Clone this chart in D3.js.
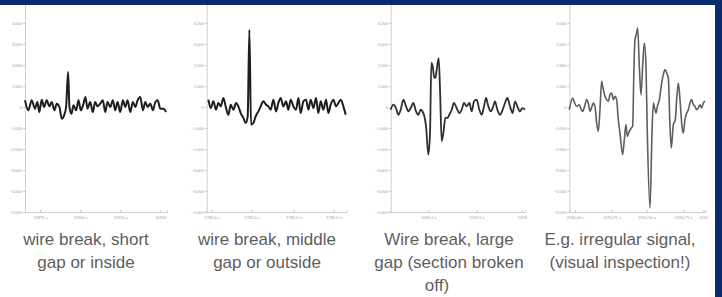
<!DOCTYPE html>
<html>
<head>
<meta charset="utf-8">
<script src="https://cdn.jsdelivr.net/npm/d3@7"></script>
<style>
  html, body { margin: 0; padding: 0; background: #ffffff; }
  svg { display: block; }
</style>
</head>
<body>
<div id="chart"></div>
<script>
// signal traces, [time offset, value]
var waveShort = [[0,320],[10,-160],[20,320],[30,-80],[37,240],[43,-240],[50,350],[57,0],[65,320],[73,30],[80,240],[88,-160],[95,160],[103,0],[110,-560],[117,-400],[123,0],[129,1670],[133,0],[139,-320],[145,80],[153,-160],[160,320],[167,-160],[175,160],[181,480],[187,-80],[195,240],[203,-240],[210,240],[217,30],[225,160],[233,320],[240,-240],[247,240],[255,0],[263,320],[270,-160],[277,240],[285,-240],[293,320],[300,0],[307,320],[315,-240],[323,240],[330,0],[337,320],[345,480],[353,-160],[360,240],[367,0],[375,160],[383,-160],[390,240],[397,320],[405,-80],[415,-80],[422,-240]];
var waveMiddle = [[5,350],[12,-50],[20,270],[28,-130],[35,190],[42,30],[50,430],[58,-50],[65,-370],[72,110],[80,-130],[88,190],[95,30],[102,-290],[110,-520],[117,-760],[123,-440],[128,3680],[133,-840],[140,-760],[147,-440],[155,-210],[162,30],[170,270],[178,110],[185,30],[192,-130],[200,350],[208,-210],[215,190],[222,430],[230,30],[238,270],[245,-130],[252,350],[260,30],[268,-130],[275,430],[282,-290],[290,270],[298,350],[305,-130],[312,350],[320,-50],[328,430],[335,-290],[342,270],[350,-130],[358,350],[365,-290],[372,110],[380,350],[388,30],[395,190],[402,350],[410,30],[417,-370]];
var waveLarge = [[0,-130],[8,110],[16,-50],[23,-370],[30,-130],[38,350],[46,30],[53,-210],[60,-50],[68,190],[76,-210],[83,-370],[90,-130],[98,-290],[106,-920],[113,-2270],[118,-1240],[122,2100],[126,1940],[130,1460],[134,1380],[138,1780],[144,2330],[148,830],[153,-1630],[158,-1240],[164,-520],[170,-520],[176,-370],[183,-130],[190,190],[198,-50],[206,-290],[213,-130],[220,190],[228,30],[236,190],[243,-210],[250,270],[258,350],[266,-130],[273,-370],[280,30],[286,430],[293,30],[300,-210],[306,-50],[313,270],[320,-130],[328,-370],[336,-130],[343,190],[350,430],[358,30],[366,-290],[373,270],[380,30],[388,-210],[395,-50],[403,-130]];
var waveIrregular = [[0,-130],[10,430],[16,190],[22,30],[30,110],[36,-130],[40,-210],[46,30],[52,350],[58,110],[62,-210],[68,30],[72,190],[77,30],[82,-760],[87,-1160],[92,-130],[97,1220],[102,830],[107,510],[112,350],[117,270],[122,590],[127,670],[132,350],[137,510],[142,350],[147,-600],[152,-1240],[160,-2270],[165,-1560],[170,-840],[174,-1400],[180,-1160],[186,-1000],[190,-920],[194,1940],[197,3210],[202,3520],[205,3760],[210,1940],[215,590],[220,1940],[225,3050],[230,1940],[234,-1240],[242,-4810],[248,-1240],[252,190],[257,-130],[260,-290],[264,30],[270,350],[277,1140],[282,1540],[287,1780],[292,1620],[297,1380],[302,-920],[306,-1950],[312,-840],[318,-600],[322,350],[327,1140],[332,350],[338,-920],[342,-1240],[347,-600],[352,-290],[357,-130],[362,190],[367,350],[372,110],[377,30],[382,-130],[387,-50],[392,110],[397,-50],[402,190],[407,270]];

var waves = [waveShort, waveMiddle, waveLarge, waveIrregular];
var timeEnds = [425, 420, 403, 407];
var timeTicks = [[45, 165, 285, 405], [15, 135, 260, 380], [113, 258, 393], [17, 127, 232, 342, 402]];
var timeLabels = [["15875 s", "15900 s", "15925 s", "15950"], ["1780.0 s", "1782.0 s", "1784.0 s", "1786.0 s"], ["1090.0 s", "1092.0 s", "1094"], ["2590.00 s", "2590.25 s", "2590.50 s", "2590.75 s", "2591"]];
var valueTicks = [-5000, -4000, -3000, -2000, -1000, 0, 1000, 2000, 3000, 4000, 5000];
var captions = [
    ["wire break, short", "gap or inside"],
    ["wire break, middle", "gap or outside"],
    ["Wire break, large", "gap (section broken", "off)"],
    ["E.g. irregular signal,", "(visual inspection!)"]
];

var width = 722;
var height = 297;
var axisLeftX = [25, 206.7, 390.7, 569.3];
var axisRightX = [167, 346.7, 525, 705];
var captionX = [86, 267, 449, 620];
var lineColor = ["#1e1e1e", "#1e1e1e", "#2e2e2e", "#5e5e5e"];
var lineWidth = [2, 2, 1.8, 1.6];
var blue = "#0a2b6d";

var svg = d3.select("#chart")
    .append("svg")
    .attr("width", width)
    .attr("height", height);

svg.append("rect")
    .attr("width", width)
    .attr("height", height)
    .attr("fill", "#ffffff");

var yScale = d3.scaleLinear().domain([-5000, 5000]).range([212, 2]);

waves.forEach(function(wave, i){
    var xScale = d3.scaleLinear()
        .domain([0, timeEnds[i]])
        .range([axisLeftX[i], axisRightX[i]]);

    var g = svg.append("g").attr("class", "panel");

    var yAxis = g.append("g")
        .attr("transform", "translate(" + axisLeftX[i] + ",0)")
        .call(d3.axisLeft(yScale)
            .tickValues(valueTicks)
            .tickSize(2)
            .tickPadding(1)
            .tickFormat(function(d){ return d == 0 ? "0" : d3.format(",.3f")(d / 1000); }));

    var xAxis = g.append("g")
        .attr("transform", "translate(0," + yScale(-5000) + ")")
        .call(d3.axisBottom(xScale)
            .tickValues(timeTicks[i])
            .tickSize(-2)
            .tickPadding(4)
            .tickFormat(function(d, k){ return timeLabels[i][k]; }));

    [yAxis, xAxis].forEach(function(ax){
        ax.select(".domain").attr("stroke", "#cfcfcf");
        ax.selectAll(".tick line").attr("stroke", "#c8c8c8");
        ax.selectAll(".tick text")
            .attr("fill", "#9a9a9a")
            .style("font-family", "Liberation Sans, Arial, sans-serif")
            .style("font-size", "4px");
    });

    var line = d3.line()
        .x(function(d){ return xScale(d[0]); })
        .y(function(d){ return yScale(d[1]); })
        .curve(d3.curveMonotoneX);

    g.append("path")
        .datum(wave)
        .attr("d", line)
        .attr("fill", "none")
        .attr("stroke", lineColor[i])
        .attr("stroke-width", lineWidth[i])
        .attr("stroke-linejoin", "round");

    var cap = svg.append("text")
        .attr("text-anchor", "middle")
        .attr("fill", "#5e5e5e")
        .style("font-family", "Liberation Sans, Arial, sans-serif")
        .style("font-size", "17px");

    captions[i].forEach(function(txt, k){
        cap.append("tspan")
            .attr("x", (i == 2 && k == 2) ? 437 : captionX[i])
            .attr("y", 245 + k * 23)
            .text(txt);
    });
});

// frame strips
svg.append("rect")
    .attr("x", 0).attr("y", 0)
    .attr("width", width).attr("height", 5)
    .attr("fill", blue);

svg.append("rect")
    .attr("x", 715).attr("y", 0)
    .attr("width", width - 715).attr("height", height)
    .attr("fill", blue);
</script>
</body>
</html>
